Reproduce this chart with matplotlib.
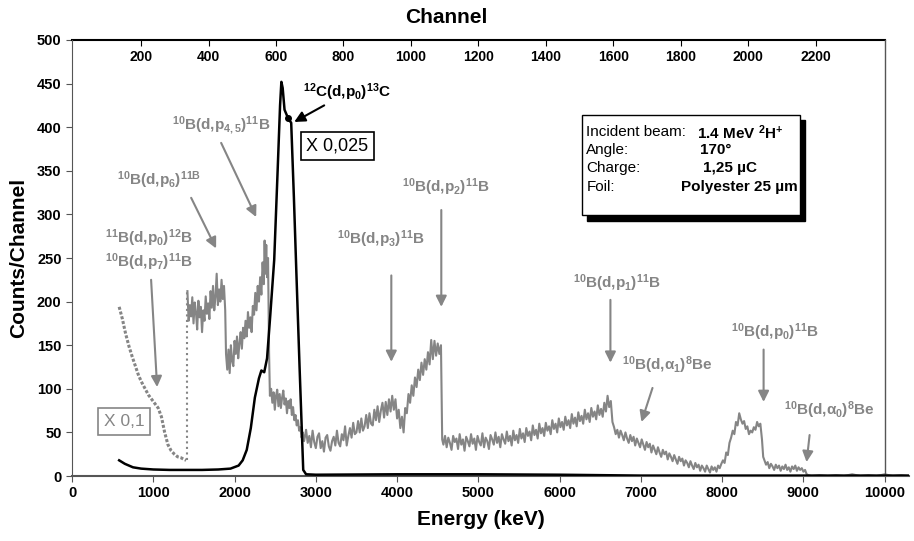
import numpy as np
import matplotlib
matplotlib.use("Agg")
import matplotlib.pyplot as plt
from matplotlib.patches import Rectangle

plt.rcParams['font.family'] = ['Liberation Sans', 'DejaVu Sans']
plt.rcParams['mathtext.fontset'] = 'custom'
plt.rcParams['mathtext.rm'] = 'Liberation Sans'
plt.rcParams['mathtext.it'] = 'Liberation Sans:italic'
plt.rcParams['mathtext.bf'] = 'Liberation Sans:bold'
plt.rcParams['mathtext.default'] = 'bf'

GRAY = '#858585'

#----------------------------------------------------------#
# data (energy keV, counts/channel)
#----------------------------------------------------------#
# low energy part, scaled x 0.1 (dotted)
low_e = [580, 620, 660, 700, 740, 780, 820, 860, 900, 940, 980, 1020, 1060,
         1100, 1140, 1180, 1220, 1260, 1300, 1340, 1380, 1404]
low_c = [194, 180, 163, 149, 137, 126, 115, 107, 100, 93, 88, 83, 78,
         68, 50, 36, 29, 25, 22, 21, 19, 18]

# boron spectrum (gray)
gray_pts = [
    # 10B(d,p4,5..7) region
    (1420, 212), (1435, 178), (1450, 196), (1465, 183), (1480, 205), (1495, 175), (1510, 199),
    (1525, 188), (1540, 168), (1555, 201), (1570, 182), (1585, 194), (1600, 165), (1615, 190),
    (1630, 178), (1645, 206), (1660, 186), (1675, 198), (1690, 180), (1705, 212), (1720, 193),
    (1735, 218), (1750, 190), (1765, 205), (1780, 232), (1795, 196), (1810, 214), (1825, 200),
    (1840, 225), (1855, 203), (1870, 218), (1885, 190), (1895, 140), (1910, 122), (1925, 145),
    (1940, 118), (1955, 150), (1970, 132), (1985, 126), (2000, 155), (2015, 140), (2030, 160),
    (2045, 135), (2060, 152), (2075, 165), (2090, 146), (2105, 170), (2120, 158), (2135, 178),
    (2150, 160), (2165, 188), (2180, 170), (2195, 182), (2210, 165), (2225, 195), (2240, 185),
    (2255, 210), (2270, 190), (2285, 218), (2300, 200), (2315, 228), (2330, 208), (2345, 245),
    (2360, 220), (2370, 270), (2380, 232), (2390, 265), (2400, 228), (2412, 250), (2425, 140),
    (2435, 92),
    # under the carbon peak
    (2450, 100), (2465, 84), (2480, 96), (2495, 76), (2510, 92), (2525, 99), (2540, 80),
    (2555, 94), (2570, 78), (2585, 90), (2600, 98), (2615, 82), (2630, 89), (2645, 72),
    (2660, 86), (2675, 78), (2690, 88), (2705, 70), (2720, 79), (2735, 64), (2750, 70),
    (2765, 58), (2780, 64), (2795, 52), (2810, 56), (2825, 44), (2840, 50), (2855, 40),
    (2870, 47),
    # p3 / p2
    (2880, 53), (2900, 38), (2920, 46), (2940, 33), (2960, 52), (2980, 39), (3000, 32),
    (3020, 45), (3040, 49), (3060, 32), (3080, 40), (3100, 28), (3120, 44), (3140, 47),
    (3160, 34), (3180, 29), (3200, 40), (3220, 45), (3240, 35), (3260, 52), (3280, 38),
    (3300, 34), (3320, 48), (3340, 41), (3360, 57), (3380, 35), (3400, 46), (3420, 55),
    (3440, 44), (3460, 61), (3480, 48), (3500, 50), (3520, 63), (3540, 50), (3560, 66),
    (3580, 52), (3600, 57), (3620, 70), (3640, 55), (3660, 72), (3680, 60), (3700, 58),
    (3720, 76), (3740, 64), (3760, 80), (3780, 62), (3800, 75), (3820, 84), (3840, 67),
    (3860, 85), (3880, 70), (3900, 88), (3920, 74), (3940, 92), (3960, 76), (3980, 88),
    (4000, 66), (4020, 76), (4040, 55), (4060, 68), (4080, 50), (4100, 78), (4120, 72),
    (4140, 94), (4160, 84), (4180, 104), (4200, 92), (4220, 113), (4240, 102), (4260, 122),
    (4280, 110), (4300, 130), (4320, 116), (4340, 134), (4360, 122), (4380, 142), (4400, 128),
    (4420, 156), (4440, 134), (4460, 155), (4480, 138), (4500, 152), (4520, 140), (4540, 150),
    (4555, 42),
    # plateau and p1
    (4570, 36), (4590, 46), (4610, 33), (4630, 44), (4650, 38), (4670, 30), (4690, 46),
    (4710, 39), (4730, 43), (4750, 31), (4770, 48), (4790, 36), (4810, 42), (4830, 29),
    (4850, 45), (4870, 40), (4890, 34), (4910, 48), (4930, 37), (4950, 43), (4970, 30),
    (4990, 46), (5010, 39), (5030, 35), (5050, 49), (5070, 33), (5090, 44), (5110, 40),
    (5130, 31), (5150, 47), (5170, 42), (5190, 36), (5210, 50), (5230, 38), (5250, 45),
    (5270, 33), (5290, 48), (5310, 42), (5330, 37), (5350, 51), (5370, 40), (5390, 46),
    (5410, 35), (5430, 52), (5450, 41), (5470, 47), (5490, 38), (5510, 54), (5530, 43),
    (5550, 49), (5570, 39), (5590, 55), (5610, 46), (5630, 51), (5650, 41), (5670, 58),
    (5690, 47), (5710, 53), (5730, 43), (5750, 60), (5770, 49), (5790, 55), (5810, 46),
    (5830, 61), (5850, 52), (5870, 57), (5890, 48), (5910, 64), (5930, 54), (5950, 60),
    (5970, 50), (5990, 66), (6010, 56), (6030, 62), (6050, 53), (6070, 68), (6090, 58),
    (6110, 64), (6130, 55), (6150, 71), (6170, 60), (6190, 67), (6210, 57), (6230, 73),
    (6250, 63), (6270, 69), (6290, 60), (6310, 76), (6330, 65), (6350, 72), (6370, 62),
    (6390, 78), (6410, 68), (6430, 74), (6450, 65), (6470, 81), (6490, 70), (6510, 77),
    (6530, 68), (6550, 84), (6570, 74), (6590, 92), (6610, 79), (6630, 86), (6650, 62),
    # alpha1 tail
    (6670, 56), (6690, 48), (6710, 53), (6730, 44), (6750, 52), (6770, 47), (6790, 41),
    (6810, 50), (6830, 43), (6850, 38), (6870, 47), (6890, 40), (6910, 45), (6930, 35),
    (6950, 43), (6970, 38), (6990, 33), (7010, 42), (7030, 36), (7050, 30), (7070, 39),
    (7090, 33), (7110, 37), (7130, 27), (7150, 35), (7170, 30), (7190, 25), (7210, 33),
    (7230, 27), (7250, 22), (7270, 30), (7290, 25), (7310, 28), (7330, 19), (7350, 26),
    (7370, 22), (7390, 17), (7410, 24), (7430, 19), (7450, 14), (7470, 22), (7490, 17),
    (7510, 20), (7530, 12), (7550, 18), (7570, 15), (7590, 10), (7610, 17), (7630, 12),
    (7650, 8), (7670, 15), (7690, 10), (7710, 13), (7730, 6), (7750, 12), (7770, 9),
    (7790, 5), (7810, 12), (7830, 8), (7850, 4), (7870, 11), (7890, 7), (7910, 10),
    (7930, 5), (7950, 12), (7970, 9),
    # p0 and alpha0
    (7990, 14), (8010, 18), (8030, 15), (8050, 27), (8070, 24), (8090, 38), (8110, 44),
    (8130, 52), (8150, 48), (8170, 62), (8190, 58), (8210, 72), (8230, 65), (8250, 60),
    (8270, 63), (8290, 54), (8310, 57), (8330, 48), (8350, 52), (8370, 50), (8390, 56),
    (8410, 53), (8430, 62), (8450, 57), (8470, 60), (8490, 42), (8505, 22), (8520, 18),
    (8540, 13), (8560, 16), (8580, 9), (8600, 14), (8620, 11), (8640, 7), (8660, 13),
    (8680, 9), (8700, 12), (8720, 6), (8740, 11), (8760, 8), (8780, 13), (8800, 7),
    (8820, 10), (8840, 5), (8860, 11), (8880, 8), (8900, 12), (8920, 6), (8940, 10),
    (8960, 7), (8980, 9), (9000, 5), (9020, 7), (9040, 2), (9060, 1),
    (9100, 0), (9200, 1), (9300, 0), (9400, 1), (9500, 0), (9600, 2), (9700, 0),
    (9800, 1), (9900, 0), (10000, 2), (10100, 0), (10200, 1), (10300, 0),
]
gray_e = [p[0] for p in gray_pts]
gray_c = [p[1] for p in gray_pts]

# carbon spectrum (black), scaled x 0.025
black_e = [580, 650, 750, 850, 1000, 1200, 1400, 1600, 1800, 1950, 2050, 2100, 2150,
           2200, 2250, 2300, 2330, 2365, 2400, 2440, 2488, 2530, 2560, 2576, 2592,
           2615, 2660, 2697, 2730, 2760, 2800, 2845, 2880, 3000, 4000, 5000, 6000,
           7000, 10300]
black_c = [18, 14, 10, 8.5, 7.5, 7, 7, 7, 7.5, 8.5, 12, 18, 30,
           55, 90, 112, 121, 119, 135, 185, 248, 350, 425, 452, 445,
           420, 410, 405, 320, 235, 125, 7, 2, 1.5, 2, 2, 1.5,
           0.5, 0.5]

# top axis: channel -> energy
ch_offset = 20.0
ch_gain = 4.15
ch_ticks = [200, 400, 600, 800, 1000, 1200, 1400, 1600, 1800, 2000, 2200]

# annotations: (text, text pos, arrow start, arrow end)
labels = [
    (r'$^{10}$B(d,p$_{4,5}$)$^{11}$B', (1835, 402), (1835, 382), (2266, 297)),
    (r'$^{10}$B(d,p$_{6}$)$^{11B}$', (1071, 339), (1466, 319), (1773, 261)),
    (r'$^{11}$B(d,p$_{0}$)$^{12}$B', (948, 273), None, None),
    (r'$^{10}$B(d,p$_{7}$)$^{11}$B', (948, 245), (973, 225), (1047, 102)),
    (r'$^{10}$B(d,p$_{3}$)$^{11}$B', (3805, 271), (3929, 230), (3929, 131)),
    (r'$^{10}$B(d,p$_{2}$)$^{11}$B', (4594, 331), (4544, 305), (4544, 194)),
    (r'$^{10}$B(d,p$_{1}$)$^{11}$B', (6700, 221), (6625, 202), (6625, 130)),
    (r'$^{10}$B(d,$\alpha_{1}$)$^{8}$Be', (7328, 127), (7143, 101), (7007, 62)),
    (r'$^{10}$B(d,p$_{0}$)$^{11}$B', (8645, 165), (8510, 145), (8510, 85)),
    (r'$^{10}$B(d,$\alpha_{0}$)$^{8}$Be', (9323, 76), (9076, 47), (9039, 16)),
]

info_keys = ['Incident beam:', 'Angle:', 'Charge:', 'Foil:']
info_vals = [r'1.4 MeV $^{2}$H$^{+}$', '170°', '1,25 µC', 'Polyester 25 µm']

#----------------------------------------------------------#
# figure
#----------------------------------------------------------#
fig = plt.figure(figsize=(9.14, 5.41), dpi=100)
ax = fig.add_axes([0.0788, 0.1201, 0.9158, 0.806])
ax.set_xlim(0, 10300)
ax.set_ylim(0, 500)

ax.plot(low_e, low_c, color=GRAY, lw=2.2, linestyle=(0, (1, 0.6)))
ax.plot([1416, 1416], [18, 212], color=GRAY, lw=1.5, linestyle=':')
ax.plot(gray_e, gray_c, color=GRAY, lw=1.5)
ax.plot(black_e, black_c, color='black', lw=1.8, zorder=3)
ax.plot([2660], [410], 'o', color='black', ms=4, zorder=4)

for txt, pos, a0, a1 in labels:
    ax.text(pos[0], pos[1], txt, color=GRAY, fontsize=11, fontweight='bold',
            ha='center', va='center')
    if a0 is not None:
        ax.annotate('', xy=a1, xytext=a0,
                    arrowprops=dict(arrowstyle='-|>', color=GRAY, lw=1.5,
                                    mutation_scale=16, shrinkA=0, shrinkB=0))

ax.text(3387, 440, r'$^{12}$C(d,p$_{0}$)$^{13}$C', color='black', fontsize=11,
        fontweight='bold', ha='center', va='center')
ax.annotate('', xy=(2734, 406), xytext=(3103, 425),
            arrowprops=dict(arrowstyle='-|>', color='black', lw=1.5,
                            mutation_scale=16, shrinkA=0, shrinkB=0))

ax.text(3264, 378, 'X 0,025', color='black', fontsize=13, ha='center', va='center',
        bbox=dict(boxstyle='square,pad=0.3', fc='white', ec='black', lw=1.2))
ax.text(640, 63, 'X 0,1', color=GRAY, fontsize=12.5, ha='center', va='center',
        bbox=dict(boxstyle='square,pad=0.35', fc='white', ec=GRAY, lw=1.2))

# info box with shadow
box_x, box_y, box_w, box_h = 6281, 299, 2672, 115
ax.add_patch(Rectangle((box_x + 62, box_y - 6), box_w, box_h, fc='black', ec='black', zorder=5))
ax.add_patch(Rectangle((box_x, box_y), box_w, box_h, fc='white', ec='black', lw=1, zorder=6))
key_y = [394, 374, 353, 331]
val_x = [7685, 7722, 7759, 7488]
for k, v, yy, vx in zip(info_keys, info_vals, key_y, val_x):
    ax.text(6330, yy, k, fontsize=11, ha='left', va='center', zorder=7)
    ax.text(vx, yy, v, fontsize=11, fontweight='bold', ha='left', va='center', zorder=7)

# axes frame
ax.spines['top'].set_visible(False)
ax.spines['right'].set_visible(False)
ax.spines['left'].set_color('#555555')
ax.spines['bottom'].set_color('#555555')
ax.spines['bottom'].set_linewidth(1.5)
ax.plot([0, 10000], [500, 500], color='black', lw=1.5, clip_on=False)
ax.plot([10000, 10000], [0, 500], color='#555555', lw=1, clip_on=False)

ax.set_xticks(range(0, 10001, 1000))
ax.set_yticks(range(0, 501, 50))
ax.tick_params(axis='both', labelsize=10.5, length=4, color='#555555')
for lab in ax.get_xticklabels() + ax.get_yticklabels():
    lab.set_fontweight('bold')

sec = ax.secondary_xaxis('top', functions=(lambda e: (e - ch_offset) / ch_gain,
                                           lambda c: ch_offset + ch_gain * c))
sec.set_xticks(ch_ticks)
sec.tick_params(direction='in', pad=-17, length=4, labelsize=10)
sec.spines['top'].set_visible(False)
for lab in sec.get_xticklabels():
    lab.set_fontweight('bold')

fig.text(0.4885, 0.967, 'Channel', fontsize=15, fontweight='bold', ha='center', va='center')
fig.text(0.526, 0.039, 'Energy (keV)', fontsize=15, fontweight='bold', ha='center', va='center')
fig.text(0.02, 0.523, 'Counts/Channel', fontsize=15, fontweight='bold', rotation=90,
         ha='center', va='center')

fig.savefig('out.png', dpi=100)
